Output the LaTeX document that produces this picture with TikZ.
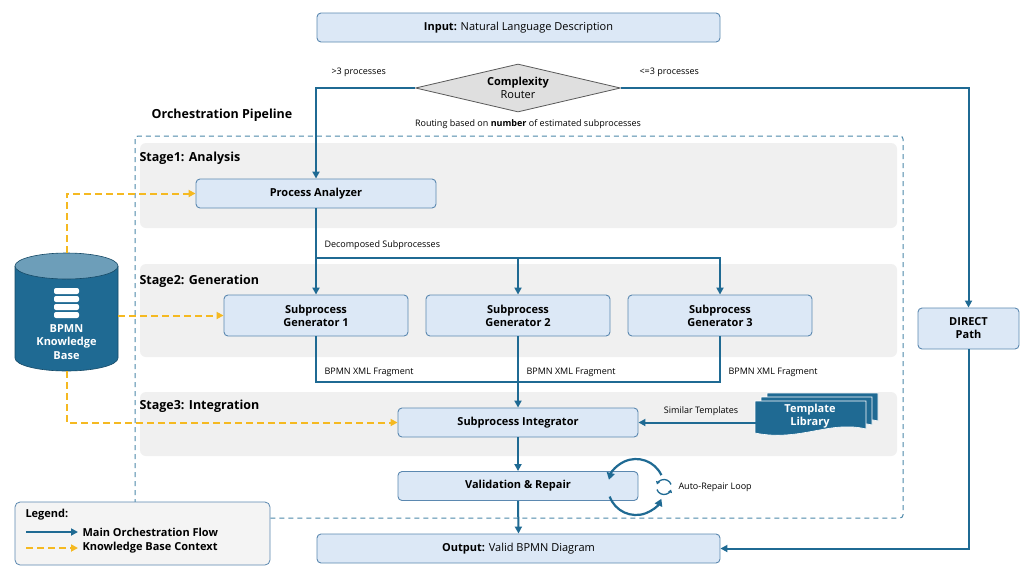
\documentclass[tikz,border=0pt]{standalone}
\usepackage{fontspec}
\setmainfont{Open Sans}
\usetikzlibrary{shapes.geometric,arrows.meta,calc}
\definecolor{dk}{HTML}{1F6A93}
\definecolor{bf}{HTML}{DCE8F6}
\definecolor{bd}{HTML}{5B88B0}
\definecolor{sg}{HTML}{F0F0F0}
\definecolor{yl}{HTML}{F5B921}
\begin{document}
\begin{tikzpicture}[x=1pt,y=-1pt,
 box/.style={draw=bd,fill=bf,rounded corners=4pt,line width=0.9pt,font=\fontsize{11}{13}\selectfont,align=center,inner sep=0pt},
 flow/.style={draw=dk,line width=2pt,-{Triangle[length=7pt,width=7pt]}},
 kb/.style={draw=yl,line width=2pt,dash pattern=on 7pt off 4pt,-{Triangle[length=7pt,width=7pt]}},
 stg/.style={fill=sg,rounded corners=6pt},
 ttl/.style={font=\bfseries\fontsize{12.5}{14}\selectfont,anchor=west},
 lbl/.style={font=\fontsize{9}{11}\selectfont}]
\useasboundingbox (0,0) rectangle (1030,579);
\fill[white] (0,0) rectangle (1030,579);
% stages
\fill[stg] (140,143) rectangle (897,228);
\fill[stg] (140,264) rectangle (897,357);
\fill[stg] (140,392) rectangle (897,456);
\draw[dk!80,line width=1pt,dash pattern=on 5pt off 4pt,rounded corners=3pt] (135,136) rectangle (903,518);
\node[ttl] at (136,158) {Stage1: Analysis};
\node[ttl] at (136,281) {Stage2: Generation};
\node[ttl] at (136,406) {Stage3: Integration};
\node[font=\bfseries\fontsize{12.5}{14}\selectfont] (op) at (222,115) {Orchestration Pipeline};
\node[lbl] (rt) at (528,124) {Routing based on \textbf{number} of estimated subprocesses};
% nodes
\node[box,minimum width=403pt,minimum height=29pt] (in) at (518.5,27.5) {\textbf{Input:} Natural Language Description};
\node[diamond,draw=gray!70!black,fill=gray!25,line width=0.8pt,minimum width=205pt,minimum height=48pt,aspect=4.3,inner sep=0pt,font=\fontsize{11}{13}\selectfont,align=center] (rtr) at (518,88) {\textbf{Complexity}\\Router};
\node[lbl,anchor=west] (gt) at (328,72) {>3 processes};
\node[lbl,anchor=west] (le) at (636,72) {<=3 processes};
\node[box,minimum width=240pt,minimum height=29pt] (pa) at (316,193.5) {\textbf{Process Analyzer}};
\node[lbl,anchor=west] (ds) at (321,245) {Decomposed Subprocesses};
\node[box,minimum width=184pt,minimum height=41pt] (g1) at (316,315.5) {\textbf{Subprocess}\\\textbf{Generator 1}};
\node[box,minimum width=184pt,minimum height=41pt] (g2) at (518,315.5) {\textbf{Subprocess}\\\textbf{Generator 2}};
\node[box,minimum width=184pt,minimum height=41pt] (g3) at (720,315.5) {\textbf{Subprocess}\\\textbf{Generator 3}};
\node[lbl,anchor=west] (f1) at (321,372) {BPMN XML Fragment};
\node[lbl,anchor=west] (f2) at (523,372) {BPMN XML Fragment};
\node[lbl,anchor=west] (f3) at (725,372) {BPMN XML Fragment};
\node[box,minimum width=240pt,minimum height=29pt] (si) at (518,422.5) {\textbf{Subprocess Integrator}};
\node[box,minimum width=240pt,minimum height=29pt] (vr) at (518,486) {\textbf{Validation \& Repair}};
\node[box,minimum width=403pt,minimum height=29pt] (out) at (518.5,548.5) {\textbf{Output:} Valid BPMN Diagram};
\node[box,minimum width=101pt,minimum height=41pt] (dp) at (968.5,328.5) {\textbf{DIRECT}\\\textbf{Path}};
% template library
\foreach \dx/\dy in {12/-8,6/-4,0/0}{
 \fill[dk,draw=white,line width=0.6pt] (755+\dx,401+\dy) -- (866+\dx,401+\dy) -- (866+\dx,429+\dy) .. controls (830+\dx,420+\dy) and (800+\dx,442+\dy) .. (755+\dx,433+\dy) -- cycle;}
\node[font=\bfseries\fontsize{11}{13}\selectfont,text=white,align=center] (tl) at (810,416) {Template\\Library};
\node[lbl,anchor=south] (st) at (701,419) {Similar Templates};
% cylinder
\fill[dk] (15,266) -- (15,358) arc[start angle=180,end angle=0,x radius=51.5,y radius=13] -- (118,266) -- cycle;
\draw[dk!70!black,line width=0.6pt] (15,266) -- (15,358) arc[start angle=180,end angle=0,x radius=51.5,y radius=13] -- (118,266);
\fill[dk!65!white,draw=dk!70!black,line width=0.6pt] (66.5,266) ellipse (51.5 and 13);
\foreach \yy in {288,296,304,312}{\fill[white,rounded corners=2pt] (54,\yy) rectangle (79,\yy+6);}
\node[text=white,font=\bfseries\fontsize{11}{13.5}\selectfont,align=center] (kbt) at (66.5,342) {BPMN\\Knowledge\\Base};
% main flow
\draw[flow] (rtr.west) -| (pa.north);
\draw[flow] (rtr.east) -| (dp.north);
\draw[flow] (dp.south) |- (out.east);
\draw[dk,line width=2pt] (pa.south) -- (316,258) -- (720,258);
\draw[flow] (316,257) -- (g1.north);
\draw[flow] (518,258) -- (g2.north);
\draw[flow] (720,257) -- (g3.north);
\draw[dk,line width=2pt] (g1.south) |- (518,382);
\draw[dk,line width=2pt] (g3.south) |- (518,382);
\draw[flow] (g2.south) -- (si.north);
\draw[flow] (si.south) -- (vr.north);
\draw[flow] (vr.south) -- (out.north);
\draw[flow] (770,422.5) -- (si.east);
% loop
\coordinate (lc) at (636,487);
\draw[dk,line width=2.2pt,-{Triangle[length=7pt,width=8pt]}] ($(lc)+(-25:28)$) arc[start angle=-25,end angle=-165,radius=28];
\draw[dk,line width=2.2pt,-{Triangle[length=7pt,width=8pt]}] ($(lc)+(160:28)$) arc[start angle=160,end angle=25,radius=28];
\node[lbl,anchor=west] (arl) at (675,487) {Auto-Repair Loop};
\coordinate (sc) at (664,487);
\draw[dk,line width=1.3pt,-{Triangle[length=3pt,width=4pt]}] ($(sc)+(-20:7.5)$) arc[start angle=-20,end angle=-160,radius=7.5];
\draw[dk,line width=1.3pt,-{Triangle[length=3pt,width=4pt]}] ($(sc)+(160:7.5)$) arc[start angle=160,end angle=20,radius=7.5];
% knowledge flows
\draw[kb] (66.5,253) |- (pa.west);
\draw[kb] (118,315.5) -- (g1.west);
\draw[kb] (66.5,371) |- (si.west);
% legend
\draw[bd,fill=sg!70!white,rounded corners=5pt,line width=0.8pt] (15,502) rectangle (270,565);
\node[font=\bfseries\fontsize{11}{13}\selectfont,anchor=west] (lg) at (22,515) {Legend:};
\coordinate (l1a) at (26,532); \coordinate (l1b) at (78,532);
\coordinate (l2a) at (26,548); \coordinate (l2b) at (78,548);
\draw[flow] (l1a) -- (l1b);
\draw[kb] (l2a) -- (l2b);
\node[font=\bfseries\fontsize{11}{13}\selectfont,anchor=west] (lt1) at (79,532) {Main Orchestration Flow};
\node[font=\bfseries\fontsize{11}{13}\selectfont,anchor=west] (lt2) at (79,548) {Knowledge Base Context};
\end{tikzpicture}
\end{document}
